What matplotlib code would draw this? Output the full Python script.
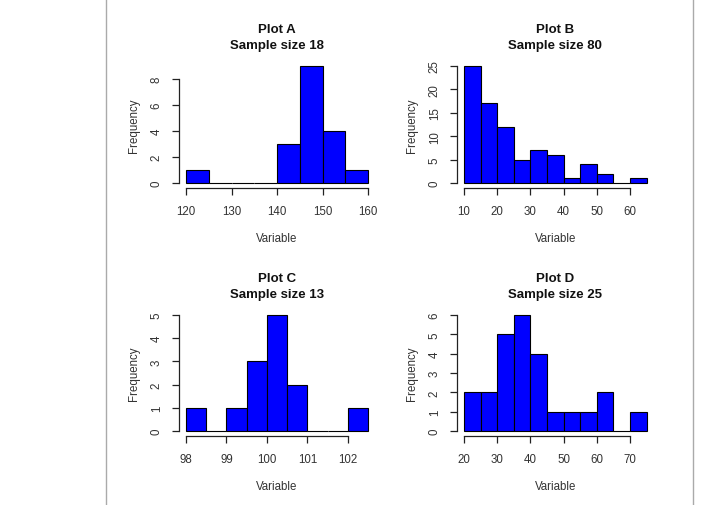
import numpy as np
import matplotlib
matplotlib.use("Agg")
import matplotlib.pyplot as plt
from matplotlib.lines import Line2D

plt.rcParams['font.family'] = ['Liberation Sans', 'DejaVu Sans']

# histogram data: bin edges and counts
titles = ["Plot A", "Plot B", "Plot C", "Plot D"]
sizes = [18, 80, 13, 25]

edges_a = np.arange(120, 161, 5)
counts_a = [1, 0, 0, 0, 3, 9, 4, 1]
xticks_a = [120, 130, 140, 150, 160]
yticks_a = [0, 2, 4, 6, 8]

edges_b = np.arange(10, 66, 5)
counts_b = [25, 17, 12, 5, 7, 6, 1, 4, 2, 0, 1]
xticks_b = [10, 20, 30, 40, 50, 60]
yticks_b = [0, 5, 10, 15, 20, 25]

edges_c = np.arange(98, 102.51, 0.5)
counts_c = [1, 0, 1, 3, 5, 2, 0, 0, 1]
xticks_c = [98, 99, 100, 101, 102]
yticks_c = [0, 1, 2, 3, 4, 5]

edges_d = np.arange(20, 76, 5)
counts_d = [2, 2, 5, 6, 4, 1, 1, 1, 2, 0, 1]
xticks_d = [20, 30, 40, 50, 60, 70]
yticks_d = [0, 1, 2, 3, 4, 5, 6]

W, H = 726, 506
fig = plt.figure(figsize=(W / 100, H / 100), dpi=100)

# plot regions in pixels: left, top, right, bottom
regions = [
    (178.7, 62.3, 375.4, 188.7),
    (456.7, 62.3, 653.9, 188.7),
    (178.7, 311.4, 375.4, 436.6),
    (456.7, 311.4, 653.9, 436.6),
]

panels = [
    (edges_a, counts_a, xticks_a, yticks_a),
    (edges_b, counts_b, xticks_b, yticks_b),
    (edges_c, counts_c, xticks_c, yticks_c),
    (edges_d, counts_d, xticks_d, yticks_d),
]

txt = "#333333"

for (l, t, r, b), (edges, counts, xt, yt), title, n in zip(regions, panels, titles, sizes):
    ax = fig.add_axes([l / W, 1 - b / H, (r - l) / W, (b - t) / H])
    widths = np.diff(edges)
    ax.bar(edges[:-1], counts, width=widths, align='edge',
           color='#0000FF', edgecolor='black', linewidth=0.8)
    xr = edges[-1] - edges[0]
    ymax = max(counts)
    ax.set_xlim(edges[0] - 0.04 * xr, edges[-1] + 0.04 * xr)
    ax.set_ylim(-0.04 * ymax, 1.04 * ymax)

    for s in ['top', 'right']:
        ax.spines[s].set_visible(False)
    ax.spines['left'].set_bounds(yt[0], yt[-1])
    ax.spines['bottom'].set_bounds(xt[0], xt[-1])
    for s in ['left', 'bottom']:
        ax.spines[s].set_color('#222222')
        ax.spines[s].set_linewidth(0.9)

    ax.set_xticks(xt)
    ax.set_xticklabels([f"{v:g}" for v in xt])
    ax.set_yticks(yt)
    ax.set_yticklabels([str(v) for v in yt], rotation=90, va='center')
    ax.tick_params(axis='both', length=5, width=0.9, color='#222222',
                   labelsize=8.3, labelcolor=txt)
    ax.tick_params(axis='x', pad=7.5)
    ax.tick_params(axis='y', pad=6.5)

    ax.set_xlabel("Variable", fontsize=8.3, color=txt, labelpad=10.5)
    ax.set_ylabel("Frequency", fontsize=8.3, color=txt, labelpad=7.5)
    ax.set_title(f"{title}\nSample size {n}", fontsize=9.5, fontweight='bold',
                 color='#111111', pad=9.5, linespacing=1.5)

# border lines of the embedded picture
for xp in (106, 693):
    fig.add_artist(Line2D([xp / W, xp / W], [0, 1], color='#aaaaaa', linewidth=1))

fig.savefig("out.png", dpi=100)
